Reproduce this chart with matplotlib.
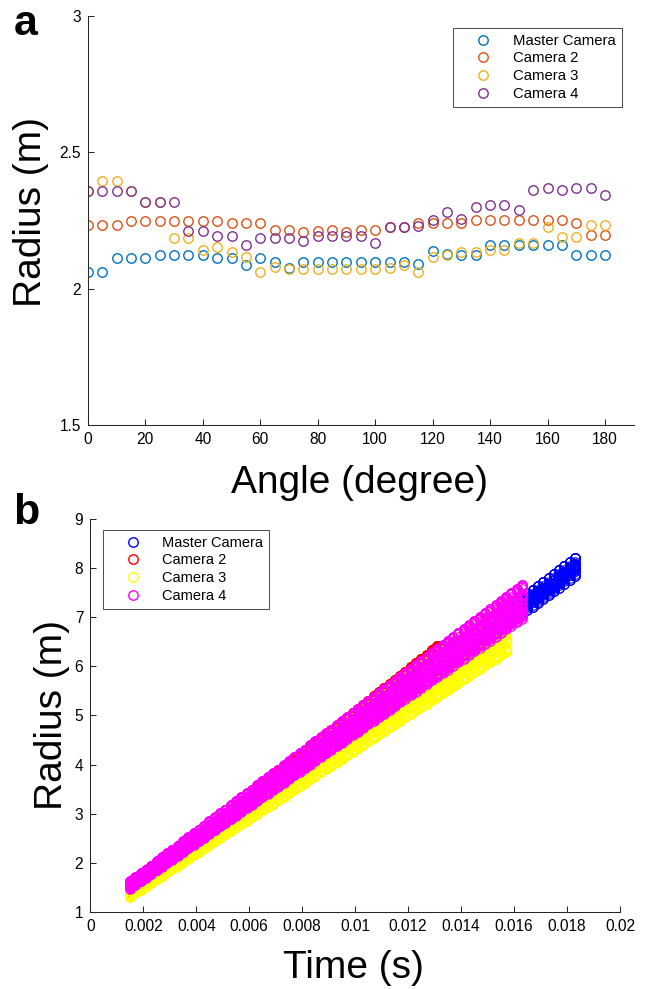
import numpy as np
import matplotlib.pyplot as plt
from matplotlib.ticker import FuncFormatter

plt.rcParams['font.family'] = ['Liberation Sans', 'DejaVu Sans']

# panel a: radius around the front at one instant, per camera
angle = list(range(0, 185, 5))
r_master = [2.062, 2.062, 2.111, 2.111, 2.111, 2.123, 2.123, 2.123, 2.123, 2.111,
            2.111, 2.087, 2.111, 2.099, 2.075, 2.099, 2.099, 2.099, 2.099, 2.099,
            2.099, 2.099, 2.099, 2.089, 2.138, 2.128, 2.125, 2.125, 2.161, 2.161,
            2.161, 2.161, 2.161, 2.161, 2.124, 2.124, 2.124]
r_cam2 = [2.233, 2.233, 2.233, 2.249, 2.249, 2.249, 2.249, 2.249, 2.249, 2.249,
          2.242, 2.242, 2.242, 2.216, 2.216, 2.208, 2.212, 2.216, 2.208, 2.216,
          2.216, 2.226, 2.226, 2.242, 2.242, 2.242, 2.242, 2.250, 2.250, 2.250,
          2.250, 2.250, 2.250, 2.250, 2.242, 2.197, 2.197]
r_cam3 = [2.359, 2.396, 2.396, 2.359, 2.316, 2.316, 2.187, 2.187, 2.143, 2.151,
          2.136, 2.115, 2.060, 2.079, 2.072, 2.072, 2.072, 2.072, 2.072, 2.072,
          2.072, 2.077, 2.087, 2.060, 2.116, 2.125, 2.133, 2.133, 2.143, 2.143,
          2.168, 2.168, 2.225, 2.188, 2.188, 2.232, 2.232]
r_cam4 = [2.359, 2.359, 2.359, 2.359, 2.316, 2.316, 2.316, 2.211, 2.211, 2.193,
          2.193, 2.159, 2.184, 2.184, 2.184, 2.176, 2.193, 2.193, 2.193, 2.193,
          2.167, 2.226, 2.226, 2.231, 2.252, 2.281, 2.255, 2.299, 2.308, 2.308,
          2.289, 2.360, 2.369, 2.360, 2.369, 2.369, 2.343]

# panel b: frame clock (s) and mean radius per frame for each camera
frame_time = [0.0015, 0.0017, 0.0019, 0.0021, 0.0023, 0.0025, 0.0027, 0.0029, 0.0031,
              0.0033, 0.0035, 0.0037, 0.0039, 0.0041, 0.0043, 0.0045, 0.0047, 0.0049,
              0.0051, 0.0053, 0.0055, 0.0057, 0.0059, 0.0061, 0.0063, 0.0065, 0.0067,
              0.0069, 0.0071, 0.0073, 0.0075, 0.0077, 0.0079, 0.0081, 0.0083, 0.0085,
              0.0087, 0.0089, 0.0091, 0.0093, 0.0095, 0.0097, 0.0099, 0.0101, 0.0103,
              0.0105, 0.0107, 0.0109, 0.0111, 0.0113, 0.0115, 0.0117, 0.0119, 0.0121,
              0.0123, 0.0125, 0.0127, 0.0129, 0.0131, 0.0133, 0.0135, 0.0137, 0.0139,
              0.0141, 0.0143, 0.0145, 0.0147, 0.0149, 0.0151, 0.0153, 0.0155, 0.0157,
              0.0159, 0.0161, 0.0163, 0.0165, 0.0167, 0.0169, 0.0171, 0.0173, 0.0175,
              0.0177, 0.0179, 0.0181, 0.0183]
mean_master = [1.40, 1.48, 1.56, 1.64, 1.72, 1.80, 1.87, 1.95, 2.03, 2.11, 2.19,
               2.27, 2.35, 2.43, 2.51, 2.59, 2.66, 2.74, 2.82, 2.90, 2.98, 3.06,
               3.14, 3.22, 3.30, 3.38, 3.45, 3.53, 3.61, 3.69, 3.77, 3.85, 3.93,
               4.01, 4.09, 4.17, 4.24, 4.32, 4.40, 4.48, 4.56, 4.64, 4.72, 4.80,
               4.88, 4.96, 5.03, 5.11, 5.19, 5.27, 5.35, 5.43, 5.51, 5.59, 5.67,
               5.75, 5.82, 5.90, 5.98, 6.06, 6.14, 6.22, 6.30, 6.38, 6.46, 6.54,
               6.61, 6.69, 6.77, 6.85, 6.93, 7.01, 7.09, 7.17, 7.25, 7.33, 7.40,
               7.48, 7.56, 7.64, 7.72, 7.80, 7.88, 7.96, 8.04]
mean_cam2 = [1.46, 1.54, 1.63, 1.71, 1.80, 1.88, 1.97, 2.05, 2.14, 2.22, 2.31,
             2.39, 2.47, 2.56, 2.64, 2.73, 2.81, 2.90, 2.98, 3.07, 3.15, 3.23,
             3.32, 3.40, 3.49, 3.57, 3.66, 3.74, 3.83, 3.91, 4.00, 4.08, 4.16,
             4.25, 4.33, 4.42, 4.50, 4.59, 4.67, 4.76, 4.84, 4.92, 5.01, 5.09,
             5.18, 5.26, 5.35, 5.43, 5.52, 5.60, 5.69, 5.77, 5.85, 5.94, 6.02,
             6.11, 6.19, 6.28, 6.36]
mean_cam3 = [1.38, 1.45, 1.53, 1.60, 1.68, 1.75, 1.82, 1.90, 1.97, 2.04, 2.12,
             2.19, 2.27, 2.34, 2.41, 2.49, 2.56, 2.63, 2.71, 2.78, 2.86, 2.93,
             3.00, 3.08, 3.15, 3.23, 3.30, 3.37, 3.45, 3.52, 3.59, 3.67, 3.74,
             3.82, 3.89, 3.96, 4.04, 4.11, 4.18, 4.26, 4.33, 4.41, 4.48, 4.55,
             4.63, 4.70, 4.77, 4.85, 4.92, 5.00, 5.07, 5.14, 5.22, 5.29, 5.37,
             5.44, 5.51, 5.59, 5.66, 5.73, 5.81, 5.88, 5.96, 6.03, 6.10, 6.18,
             6.25, 6.33, 6.40, 6.47, 6.55, 6.62]
mean_cam4 = [1.55, 1.63, 1.71, 1.78, 1.86, 1.94, 2.02, 2.10, 2.17, 2.25, 2.33,
             2.41, 2.49, 2.56, 2.64, 2.72, 2.80, 2.88, 2.95, 3.03, 3.11, 3.19,
             3.27, 3.34, 3.42, 3.50, 3.58, 3.66, 3.73, 3.81, 3.89, 3.97, 4.05,
             4.12, 4.20, 4.28, 4.36, 4.44, 4.51, 4.59, 4.67, 4.75, 4.83, 4.90,
             4.98, 5.06, 5.14, 5.22, 5.29, 5.37, 5.45, 5.53, 5.61, 5.68, 5.76,
             5.84, 5.92, 6.00, 6.07, 6.15, 6.23, 6.31, 6.39, 6.46, 6.54, 6.62,
             6.70, 6.78, 6.85, 6.93, 7.01, 7.09, 7.17, 7.24, 7.32]

labels = ['Master Camera', 'Camera 2', 'Camera 3', 'Camera 4']
cols_a = ['#0072BD', '#D95319', '#EDB120', '#7E2F8E']
cols_b = ['#0000FF', '#FF0000', '#FFFF00', '#FF00FF']
axcol = '#262626'

fig = plt.figure(figsize=(6.46, 9.89), dpi=100)


def style(ax):
    for s in ['top', 'right']:
        ax.spines[s].set_visible(False)
    for s in ['left', 'bottom']:
        ax.spines[s].set_color(axcol)
        ax.spines[s].set_linewidth(0.75)
    ax.tick_params(direction='in', length=4, width=0.75, colors=axcol,
                   labelsize=11.2, labelcolor='black', pad=5)


# ---- a ----
ax1 = fig.add_axes([0.136, 0.5703, 0.845, 0.4136])
for r, c, lab in zip([r_master, r_cam2, r_cam3, r_cam4], cols_a, labels):
    ax1.plot(angle, r, 'o', mfc='none', mec=c, ms=6.8, mew=1.0, label=lab)
ax1.set_xlim(0, 190)
ax1.set_ylim(1.5, 3)
ax1.set_xticks(range(0, 181, 20))
ax1.set_yticks([1.5, 2, 2.5, 3])
ax1.yaxis.set_major_formatter(FuncFormatter(lambda v, p: '%g' % v))
style(ax1)
ax1.set_xlabel('Angle (degree)', fontsize=28)
ax1.set_ylabel('Radius (m)', fontsize=28)
ax1.xaxis.set_label_coords(0.498, -0.098)
ax1.yaxis.set_label_coords(-0.072, 0.52)
leg = ax1.legend(loc='upper right', bbox_to_anchor=(0.978, 0.971), borderaxespad=0,
                 fontsize=10.7, fancybox=False, handlelength=3.3, handletextpad=0.35,
                 labelspacing=0.25, borderpad=0.4, numpoints=1)
leg.get_frame().set_edgecolor(axcol)
leg.get_frame().set_linewidth(0.75)
fig.text(0.021, 0.965, 'a', fontsize=31, fontweight='bold')

# ---- b ----
# every frame holds one circle per angle: the angular shape from panel a
# scaled to that frame's mean radius
ax2 = fig.add_axes([0.1398, 0.0779, 0.820, 0.3974])
for prof, mean_r, c, lab in zip([r_master, r_cam2, r_cam3, r_cam4],
                                [mean_master, mean_cam2, mean_cam3, mean_cam4],
                                cols_b, labels):
    prof = np.array(prof)
    shape = prof / prof.mean()
    t = np.array(frame_time[:len(mean_r)])
    rr = np.outer(mean_r, shape)
    tt = np.repeat(t, len(shape))
    ax2.plot(tt, rr.ravel(), 'o', mfc='none', mec=c, ms=6.8, mew=0.8)
    ax2.plot([], [], 'o', mfc='none', mec=c, ms=6.8, mew=1.0, label=lab)
ax2.set_xlim(0, 0.02)
ax2.set_ylim(1, 9)
ax2.set_xticks(np.linspace(0, 0.02, 11))
ax2.set_yticks(range(1, 10))
ax2.xaxis.set_major_formatter(FuncFormatter(lambda v, p: '%g' % round(v, 4)))
style(ax2)
ax2.set_xlabel('Time (s)', fontsize=28)
ax2.set_ylabel('Radius (m)', fontsize=28)
ax2.xaxis.set_label_coords(0.4975, -0.097)
ax2.yaxis.set_label_coords(-0.038, 0.50)
leg2 = ax2.legend(loc='upper left', bbox_to_anchor=(0.024, 0.972), borderaxespad=0,
                  fontsize=10.5, fancybox=False, handlelength=3.3, handletextpad=0.35,
                  labelspacing=0.25, borderpad=0.4, numpoints=1)
leg2.get_frame().set_edgecolor(axcol)
leg2.get_frame().set_linewidth(0.75)
fig.text(0.021, 0.470, 'b', fontsize=31, fontweight='bold')

fig.savefig('out.png', dpi=100)
